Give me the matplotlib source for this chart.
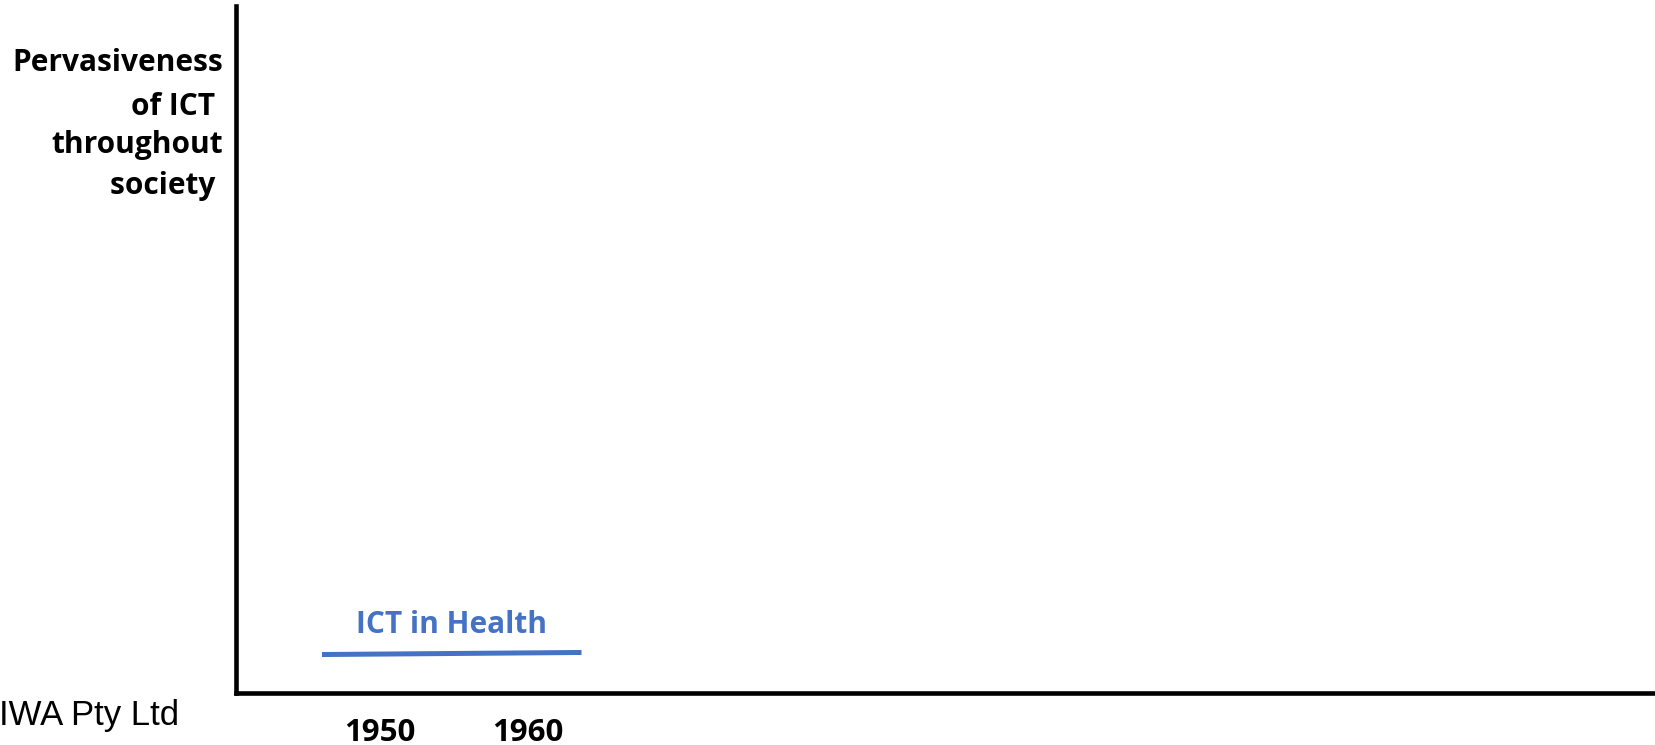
import matplotlib.pyplot as plt

W, H = 1655, 745

# data
years = [1946.1, 1963.6]
ict_health = [5.6, 5.9]
tick_years = [1950, 1960]
tick_labels = ['1950', '1960']
ylabel_lines = ['Pervasiveness', 'of ICT ', 'throughout', 'society ']
blue = '#4472C4'

fig = plt.figure(figsize=(W / 100, H / 100), dpi=100)
ax = fig.add_axes([236 / W, (H - 693) / H, (W - 236) / W, (693 - 6) / H])
ax.set_xlim(1940.3, 2036)
ax.set_ylim(0, 100)

ax.plot(years, ict_health, color=blue, lw=3.6, solid_capstyle='butt')
ax.text(sum(years) / 2, 9.9, 'ICT in Health', color=blue,
        fontsize=21.5, fontweight='bold', family='Open Sans', ha='center', va='center')

for s in ['top', 'right']:
    ax.spines[s].set_visible(False)
for s in ['left', 'bottom']:
    ax.spines[s].set_linewidth(3.3)
    ax.spines[s].set_color('black')

ax.set_xticks(tick_years)
ax.set_xticklabels(tick_labels, fontsize=22.5, fontweight='bold', family='Open Sans')
ax.tick_params(axis='x', length=0, pad=18)
ax.set_yticks([])

# y label, right aligned, one line at a time
ys = [63, 107, 145, 186]
for line, y in zip(ylabel_lines, ys):
    fig.text(223 / W, 1 - y / H, line, ha='right', va='center', fontsize=21.5,
             fontweight='bold', family='Open Sans')

fig.text(179 / W, 1 - 716 / H, 'IWA Pty Ltd', ha='right', va='center', fontsize=25,
         family='Liberation Sans')

fig.savefig('out.png', dpi=100)
